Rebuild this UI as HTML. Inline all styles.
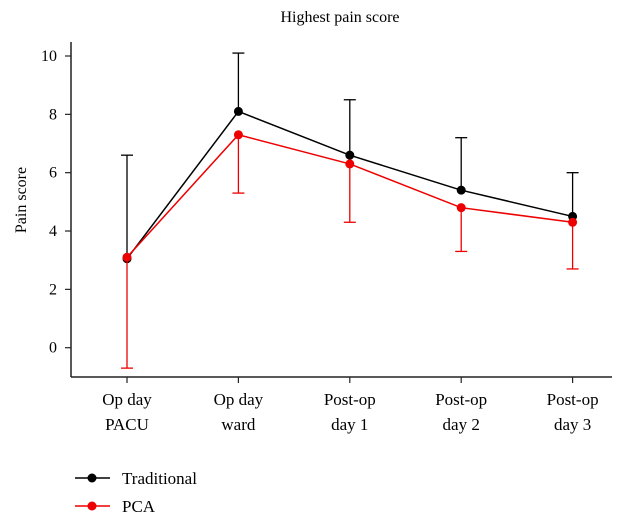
<!DOCTYPE html>
<html><head><meta charset="utf-8"><style>
body{margin:0;background:#fff;}
svg{display:block;font-family:"Liberation Serif",serif;}
</style></head><body>
<svg id="chart" width="642" height="526">
<text x="340" y="22" font-size="16" text-anchor="middle">Highest pain score</text>
<text transform="translate(26,200) rotate(-90)" font-size="16" text-anchor="middle">Pain score</text>
<g id="axes"></g><g id="marks"></g>
<g>
<g><line x1="75" y1="478" x2="110" y2="478" stroke="#000" stroke-width="1.5"/><circle cx="92" cy="478" r="4.5" fill="#000"/><text x="122" y="484" font-size="17">Traditional</text></g>
<g><line x1="75" y1="506" x2="110" y2="506" stroke="#e00" stroke-width="1.5"/><circle cx="92" cy="506" r="4.5" fill="#e00"/><text x="122" y="512" font-size="17">PCA</text></g>
</g>
</svg>
<script>
const categories=[["Op day","PACU"],["Op day","ward"],["Post-op","day 1"],["Post-op","day 2"],["Post-op","day 3"]];
const traditional=[3.05,8.1,6.6,5.4,4.5];
const traditionalUpper=[6.6,10.1,8.5,7.2,6.0];
const pca=[3.1,7.3,6.3,4.8,4.3];
const pcaLower=[-0.7,5.3,4.3,3.3,2.7];
const yTicks=[0,2,4,6,8,10];
const NS="http://www.w3.org/2000/svg";
const y=v=>347.7-v*29.17;
const x=i=>127+i*111.4;
function mk(tag,attrs,parent){const e=document.createElementNS(NS,tag);for(const k in attrs)e.setAttribute(k,attrs[k]);parent.appendChild(e);return e;}
const axes=document.getElementById('axes'),marks=document.getElementById('marks');
let e=mk('line',{x1:71,y1:42,x2:71,y2:377,stroke:'#222','stroke-width':1.5},axes);


e=mk('line',{x1:71,y1:377,x2:612,y2:377,stroke:'#222','stroke-width':1.5},axes);


yTicks.forEach(t=>{
 mk('line',{x1:65,y1:y(t),x2:71,y2:y(t),stroke:'#222','stroke-width':1.2},axes);
 const tx=mk('text',{x:57,y:y(t)+5,'font-size':16,'text-anchor':'end'},axes);tx.textContent=t;
 
 
});
categories.forEach((c,i)=>{
 mk('line',{x1:x(i),y1:377,x2:x(i),y2:383,stroke:'#222','stroke-width':1.2},axes);
 c.forEach((s,j)=>{const tx=mk('text',{x:x(i),y:405+j*25,'font-size':17,'text-anchor':'middle'},axes);tx.textContent=s;
 
 });
});
function series(vals,err,color,name){
 const g=mk('g',{},marks);
 
 
 vals.forEach((v,i)=>{
  mk('line',{x1:x(i),y1:y(v),x2:x(i),y2:y(err[i]),stroke:color,'stroke-width':1.3},g);
  mk('line',{x1:x(i)-6,y1:y(err[i]),x2:x(i)+6,y2:y(err[i]),stroke:color,'stroke-width':1.3},g);
 });
 mk('polyline',{points:vals.map((v,i)=>x(i)+','+y(v)).join(' '),fill:'none',stroke:color,'stroke-width':1.5},g);
 vals.forEach((v,i)=>{const c=mk('circle',{cx:x(i),cy:y(v),r:4.5,fill:color},g);
 
 });
}
series(traditional,traditionalUpper,'#000','traditional');
series(pca,pcaLower,'#e00','pca');
</script>
</body></html>
